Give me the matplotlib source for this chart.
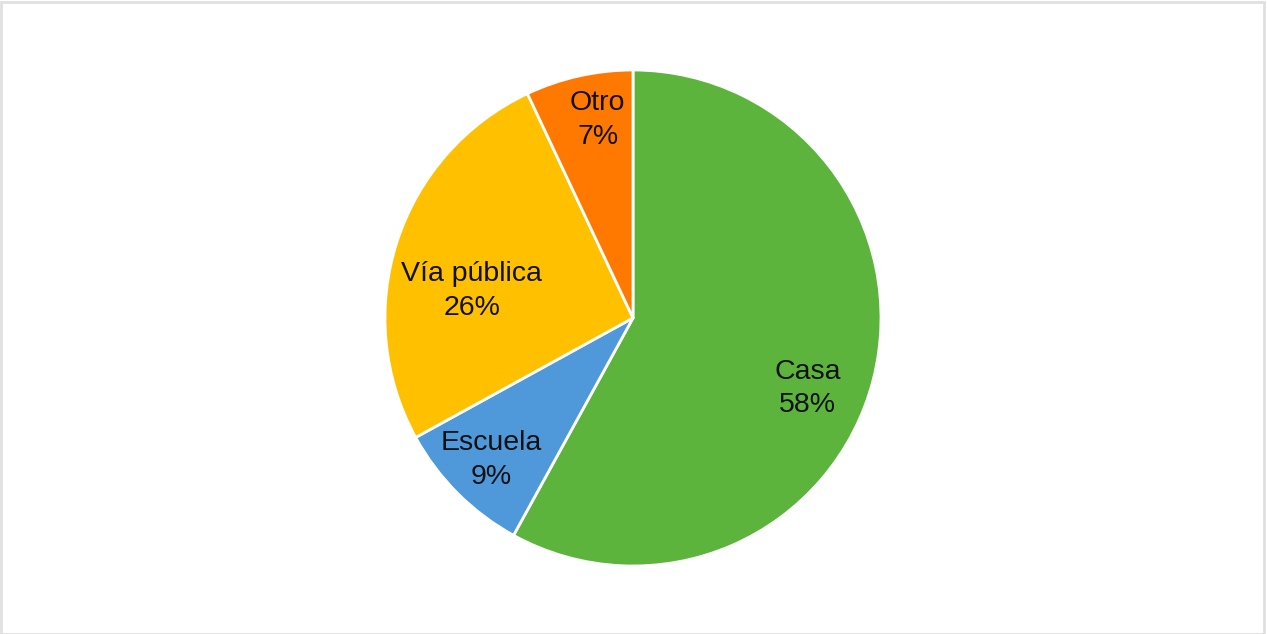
import numpy as np
import matplotlib.pyplot as plt
from matplotlib.patches import Rectangle

categories = ["Casa", "Escuela", "Vía pública", "Otro"]
values = [58, 9, 26, 7]
colors = ["#5cb43c", "#4f98da", "#ffc000", "#ff7900"]
# radial position of each label (fraction of radius) and angular nudge (deg)
label_radius = [0.76, 0.81, 0.66, 0.81]
label_nudge = [-7.5, 0.0, 8.5, -2.5]

plt.rcParams['font.family'] = ['Liberation Sans', 'DejaVu Sans']

fig = plt.figure(figsize=(12.67, 6.34), dpi=100)
W, H = 1267, 634
cx, cy, r = 633, 634 - 318, 248
ax = fig.add_axes([(cx - r) / W, (cy - r) / H, 2 * r / W, 2 * r / H])

wedges, _ = ax.pie(values, colors=colors, startangle=90, counterclock=False,
                   wedgeprops=dict(edgecolor='white', linewidth=2))
ax.set_xlim(-1, 1)
ax.set_ylim(-1, 1)
ax.set_aspect('equal')

total = sum(values)
for w, cat, v, rr, nd in zip(wedges, categories, values, label_radius, label_nudge):
    ang = np.deg2rad((w.theta1 + w.theta2) / 2 + nd)
    ax.text(rr * np.cos(ang), rr * np.sin(ang), f"{cat}\n{round(100 * v / total)}%",
            ha='center', va='center', fontsize=20.5, color='#111111',
            linespacing=1.38)

fig.patches.append(Rectangle((0.001, 0.0), 0.997, 0.997, transform=fig.transFigure,
                             fill=False, edgecolor='#e0e0e0', linewidth=2))

fig.savefig("out.png", dpi=100)
